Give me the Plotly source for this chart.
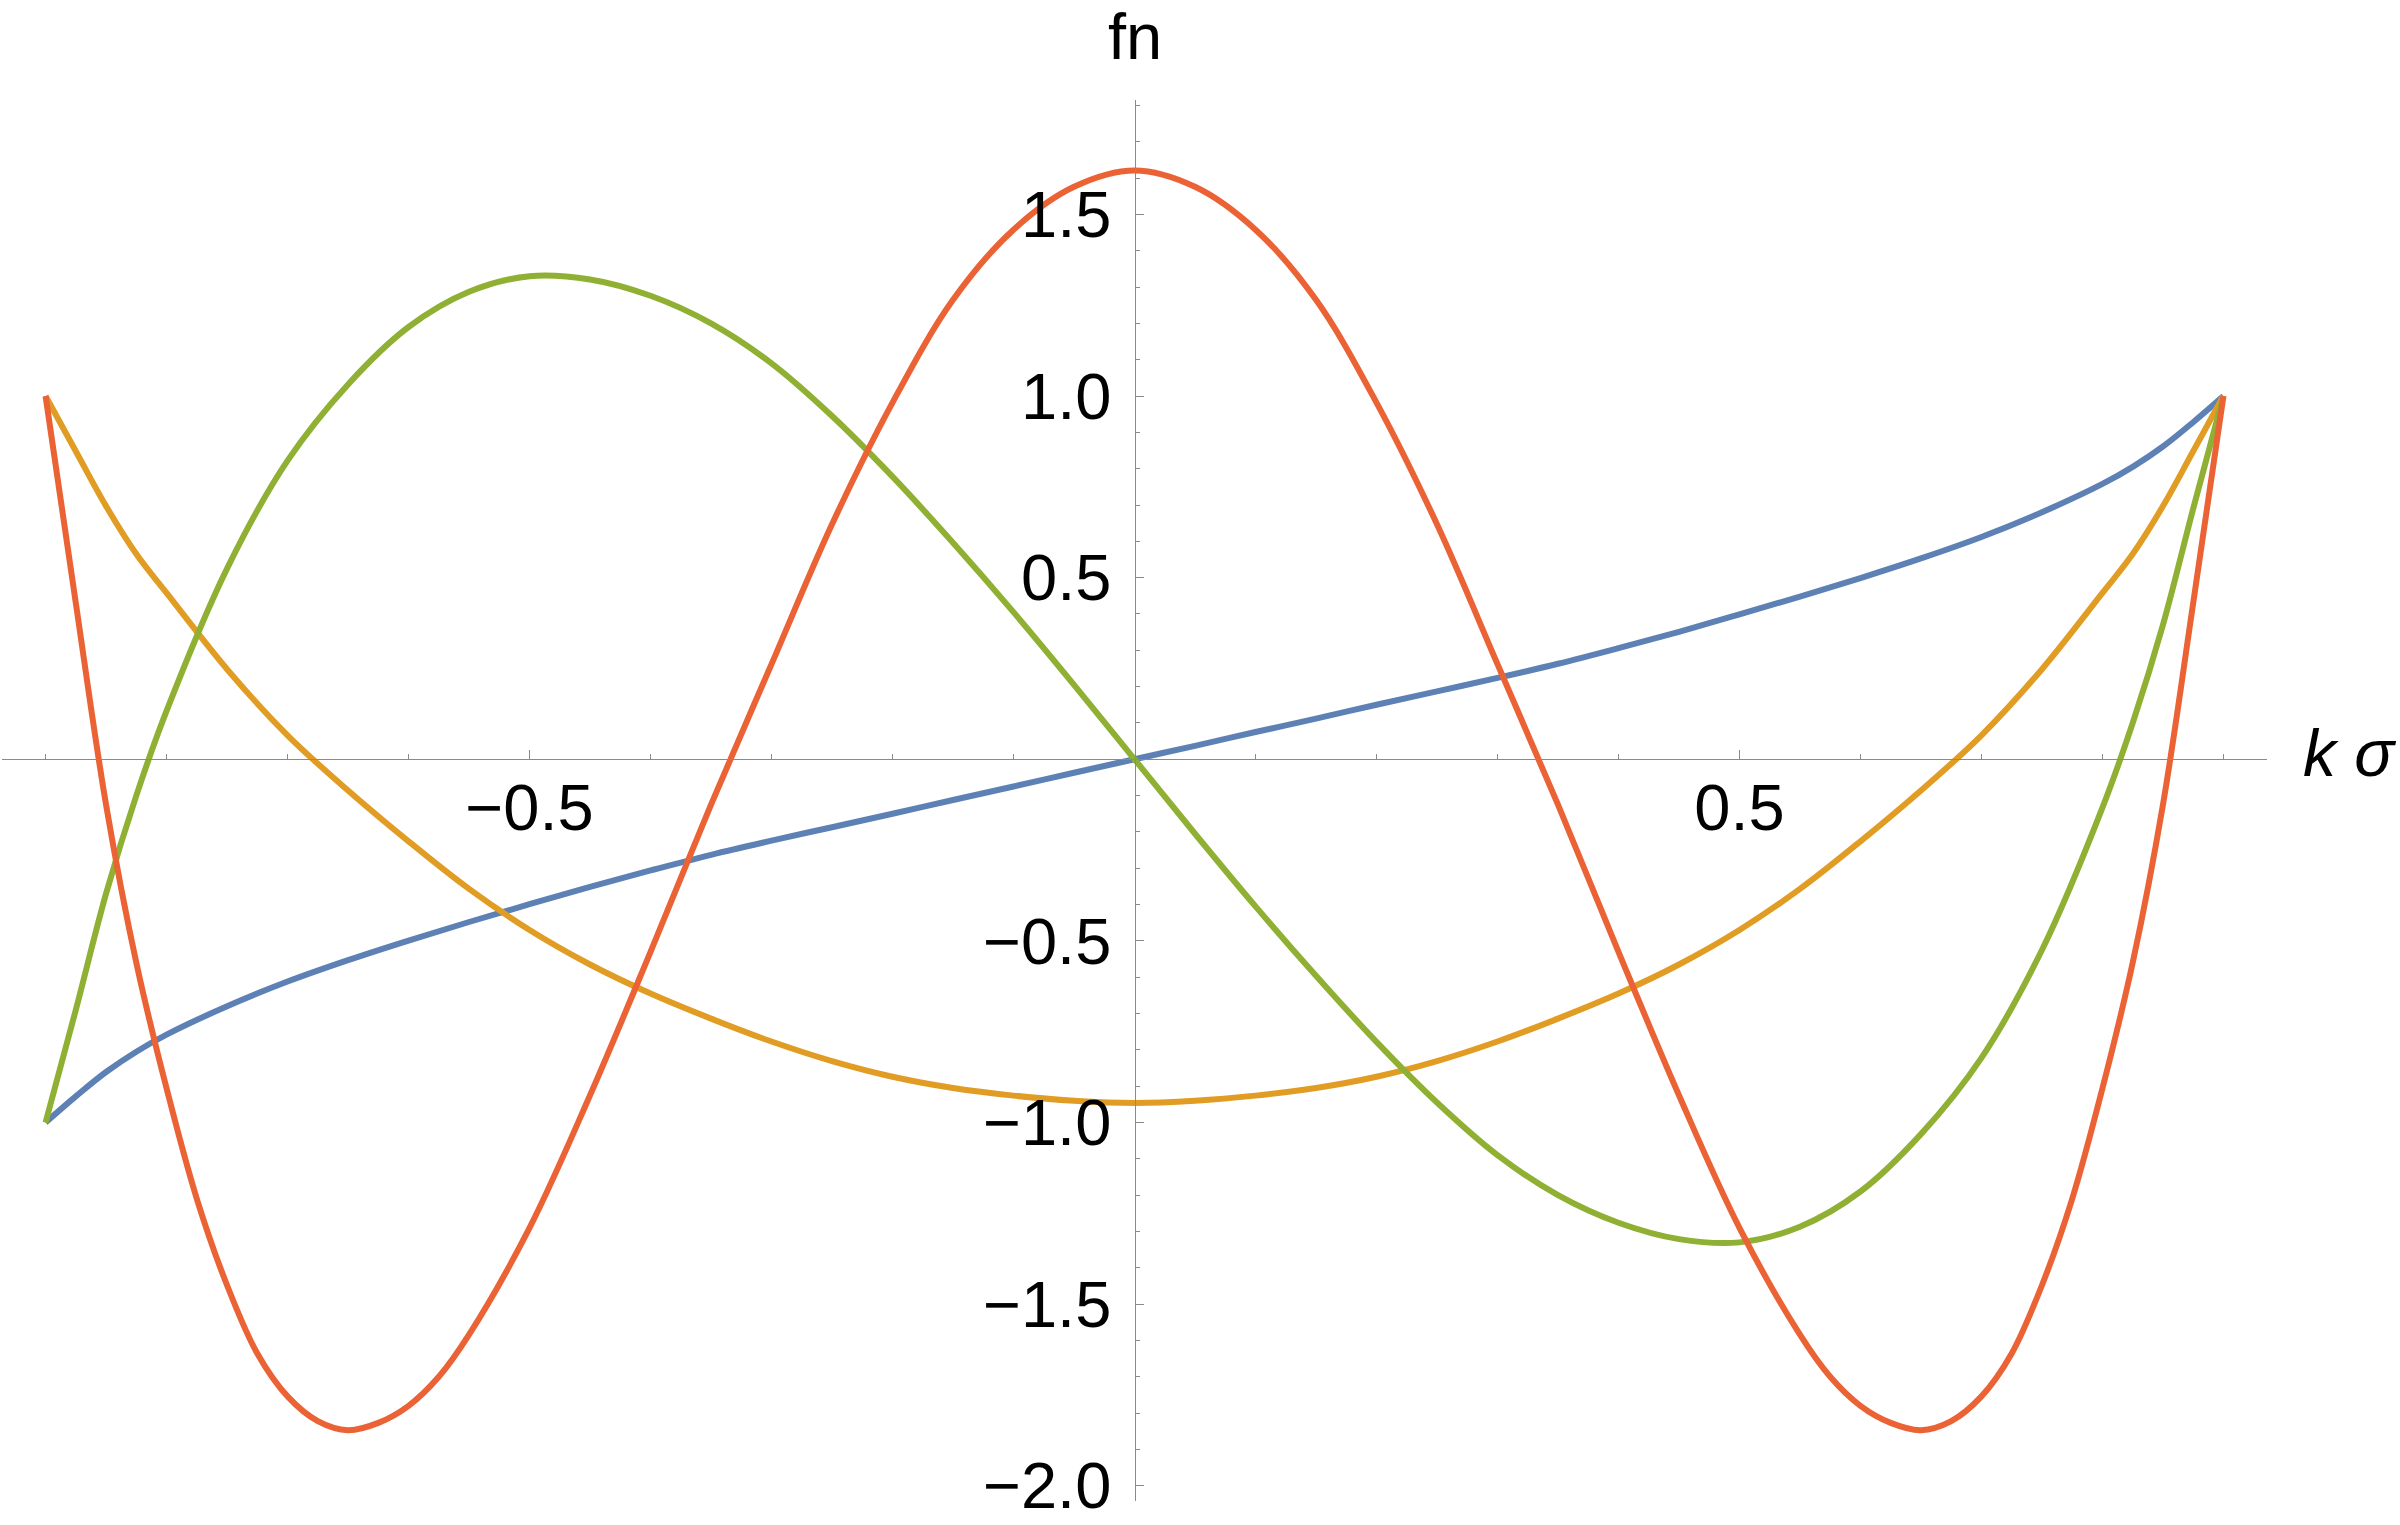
import plotly.graph_objects as go

# Sample abscissae (k sigma) shared by the blue, orange and green curves
x_vals = [-0.9, -0.875, -0.85, -0.825, -0.8, -0.75, -0.7, -0.65, -0.6, -0.55, -0.5,
          -0.45, -0.4, -0.35, -0.3, -0.25, -0.2, -0.15, -0.1, -0.05, 0.0,
          0.05, 0.1, 0.15, 0.2, 0.25, 0.3, 0.35, 0.4, 0.45, 0.5,
          0.55, 0.6, 0.65, 0.7, 0.75, 0.8, 0.825, 0.85, 0.875, 0.9]

# Curve values
blue_vals = [-1.0, -0.928, -0.861, -0.805, -0.758, -0.680, -0.612, -0.553, -0.499, -0.448, -0.399,
             -0.351, -0.306, -0.263, -0.224, -0.187, -0.150, -0.112, -0.075, -0.037, 0.0,
             0.037, 0.075, 0.112, 0.150, 0.187, 0.224, 0.263, 0.306, 0.351, 0.399,
             0.448, 0.499, 0.553, 0.612, 0.680, 0.758, 0.805, 0.861, 0.928, 1.0]

orange_vals = [1.0, 0.848, 0.697, 0.565, 0.458, 0.248, 0.066, -0.086, -0.226, -0.357, -0.470,
               -0.565, -0.645, -0.714, -0.777, -0.831, -0.874, -0.905, -0.926, -0.940, -0.946,
               -0.940, -0.926, -0.905, -0.874, -0.831, -0.777, -0.714, -0.645, -0.565, -0.470,
               -0.357, -0.226, -0.086, 0.066, 0.248, 0.458, 0.565, 0.697, 0.848, 1.0]

green_vals = [-1.0, -0.69, -0.37, -0.10, 0.133, 0.525, 0.822, 1.032, 1.19, 1.287, 1.330,
              1.321, 1.276, 1.20, 1.09, 0.945, 0.778, 0.596, 0.405, 0.205, 0.0,
              -0.205, -0.405, -0.596, -0.778, -0.945, -1.09, -1.20, -1.276, -1.321, -1.330,
              -1.287, -1.19, -1.032, -0.822, -0.525, -0.133, 0.10, 0.37, 0.69, 1.0]

# The red curve is read at a few extra abscissae near its sharp turns
red_x = [-0.9, -0.875, -0.85, -0.825, -0.8, -0.775, -0.75, -0.725, -0.7, -0.675, -0.65,
         -0.625, -0.6, -0.575, -0.55, -0.5, -0.45, -0.4, -0.35, -0.3, -0.25, -0.2,
         -0.15, -0.1, -0.05, 0.0, 0.05, 0.1, 0.15, 0.2, 0.25, 0.3, 0.35, 0.4, 0.45,
         0.5, 0.55, 0.575, 0.6, 0.625, 0.65, 0.675, 0.7, 0.725, 0.75, 0.775, 0.8,
         0.825, 0.85, 0.875, 0.9]
red_vals = [1.0, 0.43, -0.125, -0.56, -0.906, -1.21, -1.448, -1.636, -1.754, -1.822, -1.847,
            -1.827, -1.78, -1.700, -1.584, -1.29, -0.925, -0.530, -0.125, 0.262, 0.647, 0.982,
            1.265, 1.458, 1.576, 1.621, 1.576, 1.458, 1.265, 0.982, 0.647, 0.262, -0.125, -0.530, -0.925,
            -1.29, -1.584, -1.700, -1.78, -1.827, -1.847, -1.822, -1.754, -1.636, -1.448, -1.21, -0.906,
            -0.56, -0.125, 0.43, 1.0]

# Axis ticks
x_major = [-0.5, 0.5]
x_major_text = ["\u22120.5", "0.5"]
x_minor = [-0.9, -0.8, -0.7, -0.6, -0.4, -0.3, -0.2, -0.1, 0.1, 0.2, 0.3, 0.4, 0.6, 0.7, 0.8, 0.9]
y_major = [-2.0, -1.5, -1.0, -0.5, 0.5, 1.0, 1.5]
y_major_text = ["\u22122.0", "\u22121.5", "\u22121.0", "\u22120.5", "0.5", "1.0", "1.5"]
y_minor = [-1.9, -1.8, -1.7, -1.6, -1.4, -1.3, -1.2, -1.1, -0.9, -0.8, -0.7, -0.6,
           -0.4, -0.3, -0.2, -0.1, 0.1, 0.2, 0.3, 0.4, 0.6, 0.7, 0.8, 0.9,
           1.1, 1.2, 1.3, 1.4, 1.6, 1.7, 1.8]

x_range = [-0.936, 0.936]
y_range = [-2.042, 1.815]

series = [
    ("f1", x_vals, blue_vals, "#5E81B5"),
    ("f2", x_vals, orange_vals, "#E19C24"),
    ("f3", x_vals, green_vals, "#8FB032"),
    ("f4", red_x, red_vals, "#EB6235"),
]

fig = go.Figure()
for name, xs, vals, col in series:
    fig.add_trace(go.Scatter(
        x=xs, y=vals, mode="lines", name=name,
        line=dict(color=col, width=6, shape="spline", smoothing=1.0),
        hoverinfo="skip",
    ))

axis_col = "#8a8a8a"
font_main = "Liberation Sans, Arial, sans-serif"
xpos = (0 - y_range[0]) / (y_range[1] - y_range[0])
ypos = (0 - x_range[0]) / (x_range[1] - x_range[0])

fig.update_layout(
    width=2400, height=1525,
    margin=dict(l=2, r=133, t=100, b=24),
    paper_bgcolor="white", plot_bgcolor="white",
    showlegend=False,
    xaxis=dict(
        range=x_range, anchor="free", position=xpos,
        showline=True, linecolor=axis_col, linewidth=1.3,
        ticks="inside", ticklen=9, tickwidth=1.3, tickcolor=axis_col,
        tickmode="array", tickvals=x_major, ticktext=x_major_text,
        tickfont=dict(family=font_main, size=65, color="black"),
        ticklabelstandoff=-8,
        minor=dict(ticks="inside", ticklen=5, tickwidth=1.1, tickcolor=axis_col,
                   tickmode="array", tickvals=x_minor, showgrid=False),
        showgrid=False, zeroline=False,
    ),
    yaxis=dict(
        range=y_range, anchor="free", position=ypos,
        showline=True, linecolor=axis_col, linewidth=1.3,
        ticks="inside", ticklen=8, tickwidth=1.3, tickcolor=axis_col,
        tickmode="array", tickvals=y_major, ticktext=y_major_text,
        tickfont=dict(family=font_main, size=65, color="black"),
        ticklabelstandoff=10,
        minor=dict(ticks="inside", ticklen=4.5, tickwidth=1.1, tickcolor=axis_col,
                   tickmode="array", tickvals=y_minor, showgrid=False),
        showgrid=False, zeroline=False,
    ),
    annotations=[
        dict(text="fn", x=0, xref="x", y=1, yref="paper", xanchor="center",
             yanchor="bottom", yshift=25, showarrow=False,
             font=dict(family=font_main, size=65, color="black")),
        dict(text="<i>k σ</i>", x=1.0, xref="paper", y=0, yref="y", xanchor="left",
             yanchor="middle", xshift=34, yshift=6, showarrow=False,
             font=dict(family=font_main, size=66, color="black")),
    ],
)

fig.write_html("out.html", config={"displayModeBar": False},
               post_script="document.body.style.margin='0px';")
